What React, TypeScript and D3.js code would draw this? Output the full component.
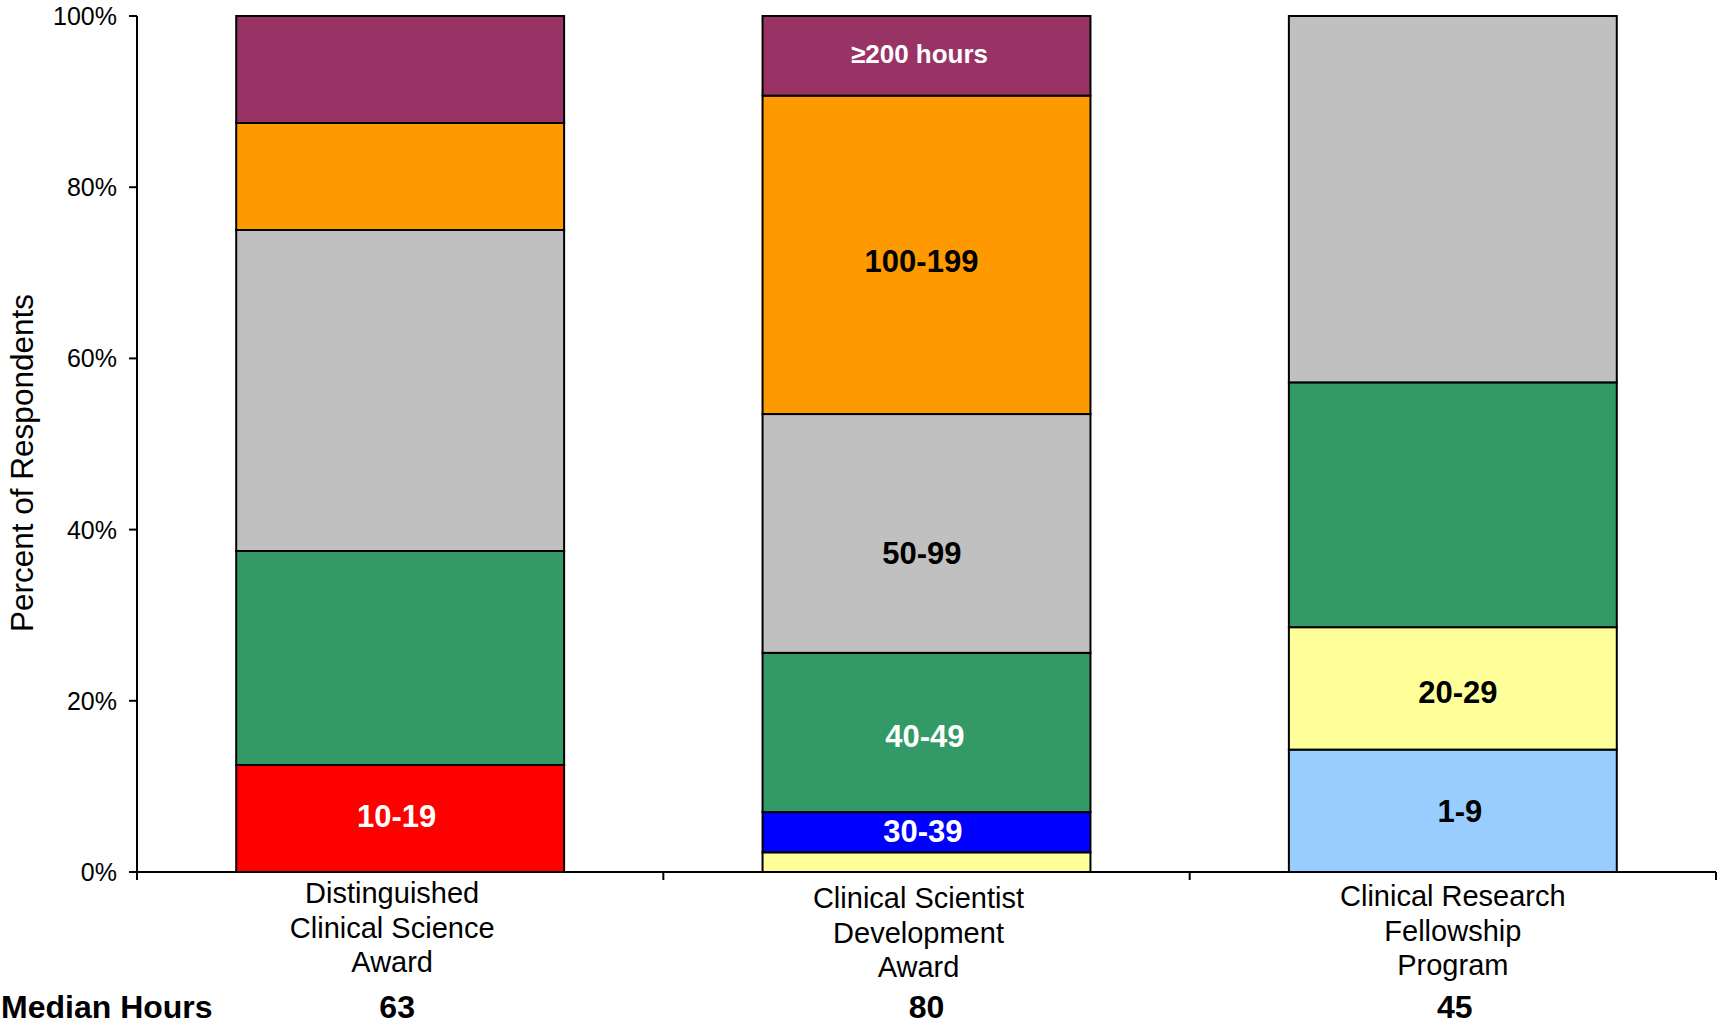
import React from "react";
import * as d3 from "d3";

const categories = [
  ["Distinguished", "Clinical Science", "Award"],
  ["Clinical Scientist", "Development", "Award"],
  ["Clinical Research", "Fellowship", "Program"],
];
const categoryKeys = ["DCSA", "CSDA", "CRFP"];
const medianHours = ["63", "80", "45"];
const seriesNames = ["1-9", "10-19", "20-29", "30-39", "40-49", "50-99", "100-199", ">=200"];
// percent of respondents per category (bottom to top)
const s1to9 = [0, 0, 14.3];
const s10to19 = [12.5, 0, 0];
const s20to29 = [0, 2.3, 14.3];
const s30to39 = [0, 4.7, 0];
const s40to49 = [25.0, 18.6, 28.6];
const s50to99 = [37.5, 27.9, 42.8];
const s100to199 = [12.5, 37.2, 0];
const s200plus = [12.5, 9.3, 0];
const yTicks = [0, 20, 40, 60, 80, 100];
// segment labels: [category index, series index, text]
const segLabels: [number, number, string][] = [
  [0, 1, "10-19"],
  [1, 7, "\u2265200 hours"],
  [1, 6, "100-199"],
  [1, 5, "50-99"],
  [1, 4, "40-49"],
  [1, 3, "30-39"],
  [2, 2, "20-29"],
  [2, 0, "1-9"],
];

// styling / layout (not data)
const colors = ["#99CCFF", "#FF0000", "#FFFF99", "#0000FF", "#339966", "#C0C0C0", "#FF9900", "#993366"];
const labelColors = ["#000", "#fff", "#000", "#fff", "#fff", "#000", "#000", "#fff"];
const labelNudge: [number, number][] = [
  [-3.6, -2.7],
  [-7, -2],
  [-5, 6.5],
  [-4.6, 19.5],
  [-1.6, 3.5],
  [-3.6, -1],
  [5, 4],
  [7, 0],
];
const labelSizes = [31, 26, 31, 31, 31, 31, 31, 31];
const catBaseline = [903, 908, 906];
const catDx = [-8, -8, 0];
const medDx = [-3, 0, 2];

export default function App() {
  const W = 1717, H = 1024;
  const font = "'Liberation Sans', Arial, Helvetica, sans-serif";
  const seriesVals = [s1to9, s10to19, s20to29, s30to39, s40to49, s50to99, s100to199, s200plus];
  const table = categoryKeys.map((k, ci) => {
    const row: any = { key: k };
    seriesNames.forEach((s, si) => (row[s] = seriesVals[si][ci]));
    return row;
  });
  const stacked = d3.stack().keys(seriesNames)(table);

  const x0 = 137, x1 = 1716;
  const x = d3.scaleBand<string>().domain(categoryKeys).range([x0, x1]).paddingInner(0.377).paddingOuter(0.1885);
  const y = d3.scaleLinear().domain([0, 100]).range([872, 16]);
  const step = x.step();
  const bw = x.bandwidth();

  return (
    <div style={{ position: "fixed", left: 0, top: 0 }}>
      <svg width={W} height={H} style={{ display: "block", background: "#fff" }} fontFamily={font}>
        {/* bars */}
        {stacked.map((ser, si) =>
          ser.map((d, ci) => {
            const h = y(d[0]) - y(d[1]);
            if (h <= 0) return null;
            return (
              <rect
                key={`${si}-${ci}`}
                x={x(categoryKeys[ci])}
                y={y(d[1])}
                width={bw}
                height={h}
                fill={colors[si]}
                stroke="#000"
                strokeWidth={2}
              />
            );
          })
        )}
        {/* segment labels */}
        {segLabels.map(([ci, si, t], i) => {
          const d = stacked[si][ci];
          const cy = (y(d[0]) + y(d[1])) / 2 + labelNudge[i][1];
          const cx = (x(categoryKeys[ci]) as number) + bw / 2 + labelNudge[i][0];
          return (
            <text key={i} x={cx} y={cy} dy="0.358em" textAnchor="middle" fontSize={labelSizes[i]} fontWeight="bold" fill={labelColors[si]}>
              {t}
            </text>
          );
        })}
        {/* y axis */}
        <line x1={x0} x2={x0} y1={y(100)} y2={880} stroke="#000" strokeWidth={2} />
        {yTicks.map((t) => (
          <g key={t}>
            <line x1={129} x2={x0} y1={y(t)} y2={y(t)} stroke="#000" strokeWidth={2} />
            <text x={117} y={y(t)} dy="0.358em" textAnchor="end" fontSize={25} fill="#000">
              {t}%
            </text>
          </g>
        ))}
        {/* x axis */}
        <line x1={x0} x2={x1} y1={y(0)} y2={y(0)} stroke="#000" strokeWidth={2} />
        {categoryKeys.map((k, i) => (
          <line key={k} x1={x0 + step * (i + 1)} x2={x0 + step * (i + 1)} y1={y(0)} y2={880} stroke="#000" strokeWidth={2} />
        ))}
        {/* category labels */}
        {categories.map((lines, ci) => {
          const cx = (x(categoryKeys[ci]) as number) + bw / 2 + catDx[ci];
          return (
            <text key={ci} textAnchor="middle" fontSize={29} fill="#000">
              {lines.map((l, li) => (
                <tspan key={li} x={cx} y={catBaseline[ci] + li * 34.7}>
                  {l}
                </tspan>
              ))}
            </text>
          );
        })}
        {/* median hours */}
        <text x={1} y={1018} fontSize={32} fontWeight="bold" fill="#000">
          Median Hours
        </text>
        {medianHours.map((m, ci) => (
          <text key={ci} x={(x(categoryKeys[ci]) as number) + bw / 2 + medDx[ci]} y={1018} textAnchor="middle" fontSize={32} fontWeight="bold" fill="#000">
            {m}
          </text>
        ))}
        {/* y title */}
        <text transform={`translate(33, 463) rotate(-90)`} textAnchor="middle" fontSize={31.5} fill="#000">
          Percent of Respondents
        </text>
      </svg>
    </div>
  );
}
